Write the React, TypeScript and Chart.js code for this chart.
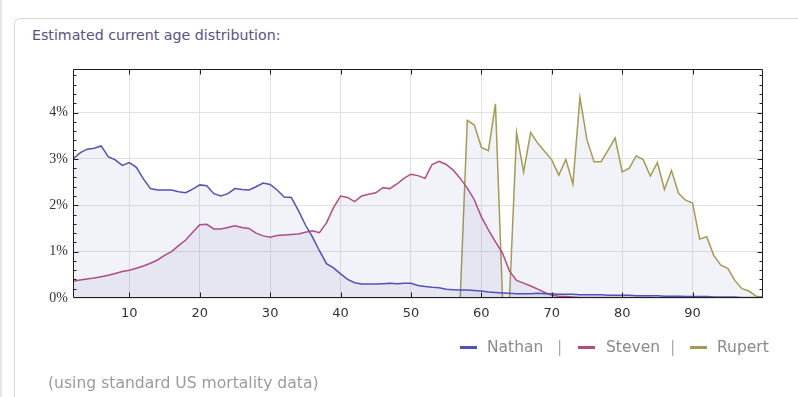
import { useEffect, useRef } from "react";
import { Chart, registerables } from "chart.js";

Chart.register(...registerables);

// ---- data ----
const AGES = [
  2, 3, 4, 5, 6, 7, 8, 9, 10, 11,
  12, 13, 14, 15, 16, 17, 18, 19, 20, 21,
  22, 23, 24, 25, 26, 27, 28, 29, 30, 31,
  32, 33, 34, 35, 36, 37, 38, 39, 40, 41,
  42, 43, 44, 45, 46, 47, 48, 49, 50, 51,
  52, 53, 54, 55, 56, 57, 58, 59, 60, 61,
  62, 63, 64, 65, 66, 67, 68, 69, 70, 71,
  72, 73, 74, 75, 76, 77, 78, 79, 80, 81,
  82, 83, 84, 85, 86, 87, 88, 89, 90, 91,
  92, 93, 94, 95, 96, 97, 98, 99, 100,
];

const NATHAN = [
  3.0, 3.13, 3.21, 3.23, 3.28, 3.05, 2.98, 2.86, 2.92, 2.82,
  2.57, 2.36, 2.33, 2.33, 2.33, 2.29, 2.27, 2.35, 2.44, 2.42,
  2.25, 2.2, 2.25, 2.36, 2.34, 2.33, 2.4, 2.48, 2.45, 2.33,
  2.18, 2.17, 1.89, 1.58, 1.32, 1.02, 0.74, 0.65, 0.52, 0.4,
  0.33, 0.3, 0.3, 0.3, 0.31, 0.32, 0.31, 0.32, 0.32, 0.27,
  0.25, 0.23, 0.22, 0.19, 0.18, 0.17, 0.17, 0.16, 0.15, 0.13,
  0.12, 0.11, 0.1, 0.09, 0.09, 0.09, 0.1, 0.09, 0.09, 0.08,
  0.08, 0.08, 0.07, 0.07, 0.07, 0.07, 0.06, 0.06, 0.06, 0.06,
  0.05, 0.05, 0.05, 0.05, 0.04, 0.04, 0.04, 0.03, 0.03, 0.03,
  0.03, 0.02, 0.02, 0.02, 0.02, 0.01, 0.01, 0.01, 0.01,
];

const STEVEN = [
  0.36, 0.39, 0.41, 0.43, 0.46, 0.49, 0.53, 0.57, 0.6, 0.64,
  0.69, 0.75, 0.82, 0.92, 1.0, 1.13, 1.25, 1.42, 1.58, 1.59,
  1.49, 1.49, 1.52, 1.56, 1.52, 1.5, 1.4, 1.34, 1.31, 1.35,
  1.36, 1.37, 1.38, 1.42, 1.45, 1.41, 1.62, 1.95, 2.2, 2.17,
  2.08, 2.2, 2.24, 2.27, 2.38, 2.36, 2.46, 2.58, 2.67, 2.64,
  2.58, 2.88, 2.95, 2.88, 2.76, 2.58, 2.37, 2.12, 1.75, 1.47,
  1.21, 0.97, 0.58, 0.38, 0.32, 0.26, 0.19, 0.12, 0.06, 0.04,
  0.03, 0.02, 0.01, 0.01, 0.01, 0.01, 0.01, 0.01, 0.01, 0.01,
  0.01, 0.01, 0.01, 0.0, 0.0, 0.0, 0.0, 0.0, 0.0, 0.0,
  0.0, 0.0, 0.0, 0.0, 0.0, 0.0, 0.0, 0.0, 0.0,
];

const RUPERT: (number | null)[] = [
  null, null, null, null, null, null, null, null, null, null,
  null, null, null, null, null, null, null, null, null, null,
  null, null, null, null, null, null, null, null, null, null,
  null, null, null, null, null, null, null, null, null, null,
  null, null, null, null, null, null, null, null, null, null,
  null, null, null, null, null, 0, 3.83, 3.73, 3.25, 3.18,
  4.19, 0, 0, 3.57, 2.72, 3.57, 3.34, 3.16, 2.98, 2.65,
  2.99, 2.46, 4.33, 3.41, 2.94, 2.94, 3.19, 3.45, 2.72, 2.8,
  3.07, 2.98, 2.63, 2.92, 2.34, 2.75, 2.26, 2.11, 2.05, 1.27,
  1.32, 0.92, 0.71, 0.64, 0.38, 0.2, 0.15, 0.04, 0.02,
];

const SERIES_NAMES = ["Nathan", "Steven", "Rupert"];
const SERIES_VALUES = [NATHAN, STEVEN, RUPERT];
const X_TICKS = [10, 20, 30, 40, 50, 60, 70, 80, 90];
const Y_TICKS = [0, 1, 2, 3, 4];
const X_MIN = 2;
const X_MAX = 100;
const Y_MAX = 4.94;
const Y_MINOR_STEP = 0.2;

// ---- styles ----
const LINE_COLORS = ["#5252b6", "#b24c84", "#a59b55"];
const FILL_COLOR = "rgba(105,105,190,0.085)";
const GRID_COLOR = "#e2e2e2";
const FRAME_COLOR = "#1e1e1e";

const framePlugin = {
  id: "frameTicks",
  afterDatasetsDraw(chart: any) {
    const { ctx, chartArea: a, scales } = chart;
    const xs = scales.x;
    const ys = scales.y;
    const L = Math.round(a.left) + 0.5;
    const R = Math.round(a.right) - 0.5;
    const T = Math.round(a.top) + 0.5;
    const B = Math.round(a.bottom) - 0.5;
    ctx.save();
    ctx.strokeStyle = FRAME_COLOR;
    ctx.lineWidth = 1;
    ctx.beginPath();
    ctx.rect(L, T, R - L, B - T);
    X_TICKS.forEach((v) => {
      const px = Math.round(xs.getPixelForValue(v)) + 0.5;
      ctx.moveTo(px, T);
      ctx.lineTo(px, T + 5);
      ctx.moveTo(px, B);
      ctx.lineTo(px, B - 5);
    });
    const n = Math.floor(Y_MAX / Y_MINOR_STEP + 1e-6);
    for (let i = 1; i <= n; i++) {
      const v = i * Y_MINOR_STEP;
      const major = Math.abs(v - Math.round(v)) < 1e-6;
      const len = major ? 5 : 3;
      const py = Math.round(ys.getPixelForValue(v)) + 0.5;
      ctx.moveTo(L, py);
      ctx.lineTo(L + len, py);
      ctx.moveTo(R, py);
      ctx.lineTo(R - len, py);
    }
    ctx.stroke();
    ctx.restore();
  },
};

export default function App() {
  const canvasRef = useRef<HTMLCanvasElement | null>(null);

  useEffect(() => {
    const canvas = canvasRef.current;
    if (!canvas) return;
    const chart = new Chart(canvas, {
      type: "line",
      data: {
        datasets: SERIES_NAMES.map((name, i) => ({
          label: name,
          data: AGES.map((age, j) => ({ x: age, y: SERIES_VALUES[i][j] as any })),
          borderColor: LINE_COLORS[i],
          borderWidth: 1.5,
          backgroundColor: FILL_COLOR,
          fill: "origin",
          pointRadius: 0,
          tension: 0,
          spanGaps: false,
        })),
      },
      options: {
        animation: false,
        responsive: false,
        devicePixelRatio: 1,
        layout: { padding: { left: 0, top: 69, right: 35, bottom: 69 } },
        plugins: {
          legend: { display: false },
          tooltip: { enabled: false },
        },
        scales: {
          x: {
            type: "linear",
            min: X_MIN,
            max: X_MAX,
            afterBuildTicks: (s: any) => {
              s.ticks = X_TICKS.map((v) => ({ value: v }));
            },
            afterFit: (s: any) => {
              s.height = 30;
            },
            grid: { color: GRID_COLOR, drawTicks: false },
            border: { display: false },
            ticks: {
              padding: 8,
              color: "#333",
              maxRotation: 0,
              autoSkip: false,
              font: { family: "'DejaVu Sans', sans-serif", size: 13 },
              callback: (v: any) => String(v),
            },
          },
          y: {
            type: "linear",
            min: 0,
            max: Y_MAX,
            afterBuildTicks: (s: any) => {
              s.ticks = Y_TICKS.map((v) => ({ value: v }));
            },
            afterFit: (s: any) => {
              s.width = 73;
            },
            grid: { color: GRID_COLOR, drawTicks: false },
            border: { display: false },
            ticks: {
              padding: 5,
              color: "#333",
              font: { family: "'Liberation Serif', serif", size: 14 },
              callback: (v: any) => v + "%",
            },
          },
        },
      },
      plugins: [framePlugin],
    } as any);
    return () => chart.destroy();
  }, []);

  const legendText = { position: "absolute" as const, top: 338, fontSize: 15.5, lineHeight: "18px", color: "#8a8a8a", whiteSpace: "nowrap" as const };
  const legendLine = (left: number, color: string) => (
    <div style={{ position: "absolute", left, top: 346, width: 17, height: 3, background: color }} />
  );

  return (
    <div
      style={{
        position: "fixed",
        left: 0,
        top: 0,
        width: 798,
        height: 397,
        overflow: "hidden",
        background: "#fff",
        fontFamily: "'DejaVu Sans', sans-serif",
      }}
    >
      <div style={{ position: "absolute", left: 0, top: 0, width: 2, height: 397, background: "#e6e6e6" }} />
      <div
        style={{
          position: "absolute",
          left: 14,
          top: 18,
          width: 820,
          height: 420,
          border: "1px solid #d8d8d8",
          borderRadius: 6,
          boxSizing: "border-box",
        }}
      />
      <div
        style={{
          position: "absolute",
          left: 32,
          top: 27,
          fontSize: 14.2,
          lineHeight: "16px",
          color: "#5c5183",
          whiteSpace: "nowrap",
        }}
      >
        Estimated current age distribution:
      </div>
      <canvas ref={canvasRef} width={798} height={397} style={{ position: "absolute", left: 0, top: 0, width: 798, height: 397 }} />
      {legendLine(460, LINE_COLORS[0])}
      <div style={{ ...legendText, left: 487 }}>{SERIES_NAMES[0]}</div>
      <div style={{ ...legendText, left: 557, color: "#aaaaaa" }}>|</div>
      {legendLine(578, LINE_COLORS[1])}
      <div style={{ ...legendText, left: 606 }}>{SERIES_NAMES[1]}</div>
      <div style={{ ...legendText, left: 670, color: "#aaaaaa" }}>|</div>
      {legendLine(690, LINE_COLORS[2])}
      <div style={{ ...legendText, left: 717 }}>{SERIES_NAMES[2]}</div>
      <div
        style={{
          position: "absolute",
          left: 48,
          top: 374,
          fontSize: 15.6,
          lineHeight: "18px",
          color: "#9a9a9a",
          whiteSpace: "nowrap",
        }}
      >
        (using standard US mortality data)
      </div>
    </div>
  );
}
